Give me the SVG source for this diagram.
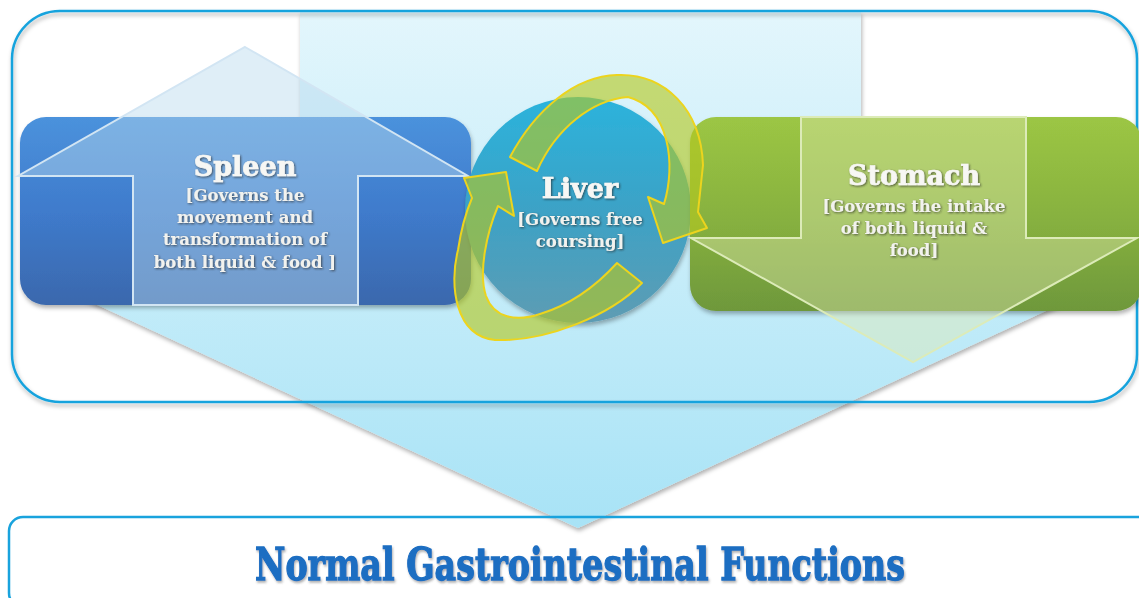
<svg xmlns="http://www.w3.org/2000/svg" width="1139" height="598" viewBox="0 0 1139 598">
<defs>
<linearGradient id="gShaft" x1="0" y1="12" x2="0" y2="528" gradientUnits="userSpaceOnUse">
<stop offset="0" stop-color="#e3f6fc"/><stop offset="1" stop-color="#a8e3f6"/>
</linearGradient>
<linearGradient id="gSpleen" x1="0" y1="0" x2="0" y2="1">
<stop offset="0" stop-color="#4b92dc"/><stop offset="0.5" stop-color="#3f7bcc"/><stop offset="1" stop-color="#3a68ad"/>
</linearGradient>
<linearGradient id="gStomach" x1="0" y1="0" x2="0" y2="1">
<stop offset="0" stop-color="#9cc644"/><stop offset="0.55" stop-color="#86b03f"/><stop offset="1" stop-color="#6e983b"/>
</linearGradient>
<linearGradient id="gLiver" x1="0" y1="0" x2="0" y2="1">
<stop offset="0" stop-color="#2bb3dc"/><stop offset="0.5" stop-color="#3ca2c6"/><stop offset="1" stop-color="#5e9cb3"/>
</linearGradient>
<filter id="shadow" x="-10%" y="-10%" width="120%" height="130%">
<feDropShadow dx="1" dy="3" stdDeviation="2" flood-color="#000" flood-opacity="0.3"/>
</filter>
<filter id="tshadow" x="-10%" y="-20%" width="120%" height="150%">
<feDropShadow dx="1" dy="1" stdDeviation="0.8" flood-color="#222" flood-opacity="0.7"/>
</filter>
<filter id="titleShadow" x="-5%" y="-20%" width="110%" height="150%">
<feDropShadow dx="1" dy="2" stdDeviation="1" flood-color="#555" flood-opacity="0.45"/>
</filter>
<style>
.frame{fill:none;stroke:#19a3dd;stroke-width:2.5}
.head{font-family:"DejaVu Serif","Liberation Serif",serif;font-weight:bold;font-size:27px;fill:#f7f7f4;stroke:#f7f7f4;stroke-width:0.7;text-anchor:middle}
.body{font-family:"DejaVu Serif","Liberation Serif",serif;font-weight:bold;font-size:16.5px;fill:#f2f2ee;text-anchor:middle}
.band{fill:#b4c81e;fill-opacity:0.62;stroke:#ecd41e;stroke-width:2;stroke-linejoin:round}
.overlay{stroke-width:2;stroke-linejoin:miter}
</style>
</defs>
<rect width="1139" height="598" fill="#ffffff"/>

<g id="background-arrow" filter="url(#shadow)">
<polygon points="300,12 861,12 861,270 1134,270 578,528 22,270 300,270" fill="url(#gShaft)"/>
</g>

<g id="frame-top">
<rect class="frame" x="12" y="11" width="1125" height="391" rx="48" ry="48" filter="url(#shadow)"/>
</g>

<g id="node-result">
<rect class="frame" x="9" y="517" width="1150" height="90" rx="14" ry="14"/>
<text x="580" y="580" font-family="'DejaVu Serif','Liberation Serif',serif" font-weight="bold" font-size="45" fill="#1b6ec2" stroke="#1b6ec2" stroke-width="1.3" text-anchor="middle" textLength="650" lengthAdjust="spacingAndGlyphs" filter="url(#titleShadow)">Normal Gastrointestinal Functions</text>
</g>

<g id="node-spleen">
<rect x="20" y="117" width="451" height="188" rx="26" ry="26" fill="url(#gSpleen)" filter="url(#shadow)"/>
<polygon class="overlay" points="245,47 468,176 358,176 358,305 133,305 133,176 18,176" fill="#b8daee" fill-opacity="0.45" stroke="#d2e5f3"/>
<g filter="url(#tshadow)">
<text class="head" x="245" y="176">Spleen</text>
<text class="body" x="245" y="201">[Governs the</text>
<text class="body" x="245" y="223">movement and</text>
<text class="body" x="245" y="245">transformation of</text>
<text class="body" x="245" y="268">both liquid &amp; food ]</text>
</g>
</g>

<g id="node-liver">
<circle cx="578" cy="210" r="113" fill="url(#gLiver)" filter="url(#shadow)"/>
</g>

<g id="node-stomach">
<rect x="690" y="117" width="452" height="194" rx="26" ry="26" fill="url(#gStomach)" filter="url(#shadow)"/>
<polygon class="overlay" points="801,117 1026,117 1026,238 1137,238 913,362 691,238 801,238" fill="#dfeab0" fill-opacity="0.42" stroke="#dcebb8"/>
<g filter="url(#tshadow)">
<text class="head" x="914" y="185">Stomach</text>
<text class="body" x="914" y="212">[Governs the intake</text>
<text class="body" x="914" y="234">of both liquid &amp;</text>
<text class="body" x="914" y="256">food]</text>
</g>
</g>

<g id="connectors">
<path class="band" d="M510,157 C535,110 575,76 617,75 C665,73 701,110 703,165 L698,212 L707,228 L663,243 L648,197 L664,204 C676,165 670,108 628,97 C592,100 556,128 537,171 Z"/>
<path class="band" d="M617,263 L642,283 C610,316 545,342 495,340 C455,336 449,285 458,250 C461,230 466,212 472,198 L464,178 L506,172 L514,216 L498,206 C487,232 478,272 486,296 C494,318 516,322 540,314 C570,305 597,285 617,263 Z"/>
</g>

<g id="liver-text" filter="url(#tshadow)">
<text class="head" x="580" y="198">Liver</text>
<text class="body" x="580" y="225">[Governs free</text>
<text class="body" x="580" y="247">coursing]</text>
</g>
</svg>
